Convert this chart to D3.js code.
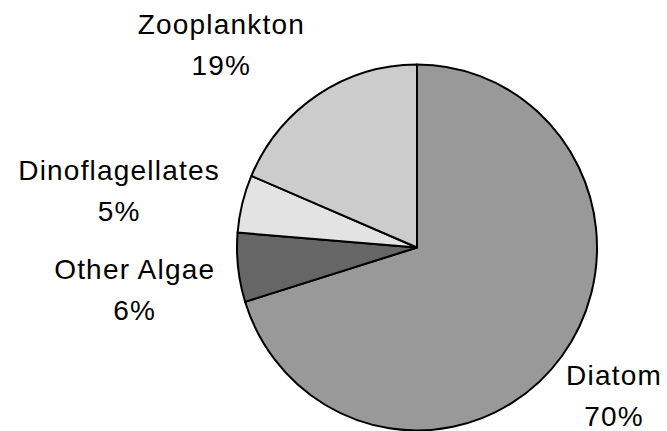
<!DOCTYPE html>
<html>
<head>
<meta charset="utf-8">
<script src="https://cdn.jsdelivr.net/npm/d3@7"></script>
<style>
  body { margin: 0; background: #fff; }
  svg { display: block; }
  .lbl { font-family: "Liberation Sans", Arial, sans-serif; font-size: 28px; letter-spacing: 1.2px; fill: #000; }
</style>
</head>
<body>
<div id="chart"></div>
<script>
// slice data, clockwise from 12 o'clock
var groups = ['Diatom', 'Other Algae', 'Dinoflagellates', 'Zooplankton'];
var shares = [70.2, 6.1, 5.1, 18.6];
var fills = ['#999999', '#666666', '#e3e3e3', '#cccccc'];

var width = 667, height = 431;
var cx = 417, cy = 247.5;
var radius = 180, squash = 183 / 180;

var svg = d3.select('#chart')
    .append('svg')
    .attr('width', width)
    .attr('height', height);

var pie = d3.pie().sort(null).value(d => d.v);
var arcs = pie(groups.map((g, i) => ({ name: g, v: shares[i], fill: fills[i] })));

var arc = d3.arc().innerRadius(0).outerRadius(radius);

var slices = svg.append('g')
    .attr('transform', `translate(${cx},${cy}) scale(1,${squash})`);

slices.selectAll('path')
    .data(arcs)
    .enter()
    .append('path')
    .attr('d', arc)
    .attr('fill', d => d.data.fill)
    .attr('stroke', '#000')
    .attr('stroke-width', 2)
    .attr('stroke-linejoin', 'round')
    .attr('vector-effect', 'non-scaling-stroke');

// labels: pushed out along the mid angle, then spread so they don't crowd
var lineGap = 41.5;
var total = d3.sum(shares);
var labels = svg.append('g');
var placed = [];

arcs.forEach(function(d) {
    var a = (d.startAngle + d.endAngle) / 2;
    var s = Math.sin(a), c = Math.cos(a);

    var t = labels.append('text').attr('class', 'lbl').attr('text-anchor', 'middle');
    t.append('tspan').attr('x', 0).attr('y', 0).text(d.data.name);
    t.append('tspan').attr('x', 0).attr('y', lineGap).text(Math.round(d.data.v / total * 100) + '%');

    var w = t.node().getBBox().width;
    var px = cx + s * 203 + Math.sign(s) * w / 2;
    px = Math.min(width - 5 - w / 2, Math.max(5 + w / 2, px));
    // py = midpoint between the two baselines
    var py = cy - c * 246 + 12;
    placed.push({ t: t, x: px, y: py, side: s < 0 ? 'L' : 'R' });
});

['L', 'R'].forEach(function(side) {
    var list = placed.filter(p => p.side === side).sort((a, b) => a.y - b.y);
    for (var i = 1; i < list.length; i++) {
        var minGap = 2 * lineGap + 16;
        if (list[i].y - list[i - 1].y < minGap) list[i].y = list[i - 1].y + minGap;
    }
});

placed.forEach(function(p) {
    p.t.attr('transform', `translate(${p.x},${p.y - lineGap / 2})`);
});
</script>
</body>
</html>
